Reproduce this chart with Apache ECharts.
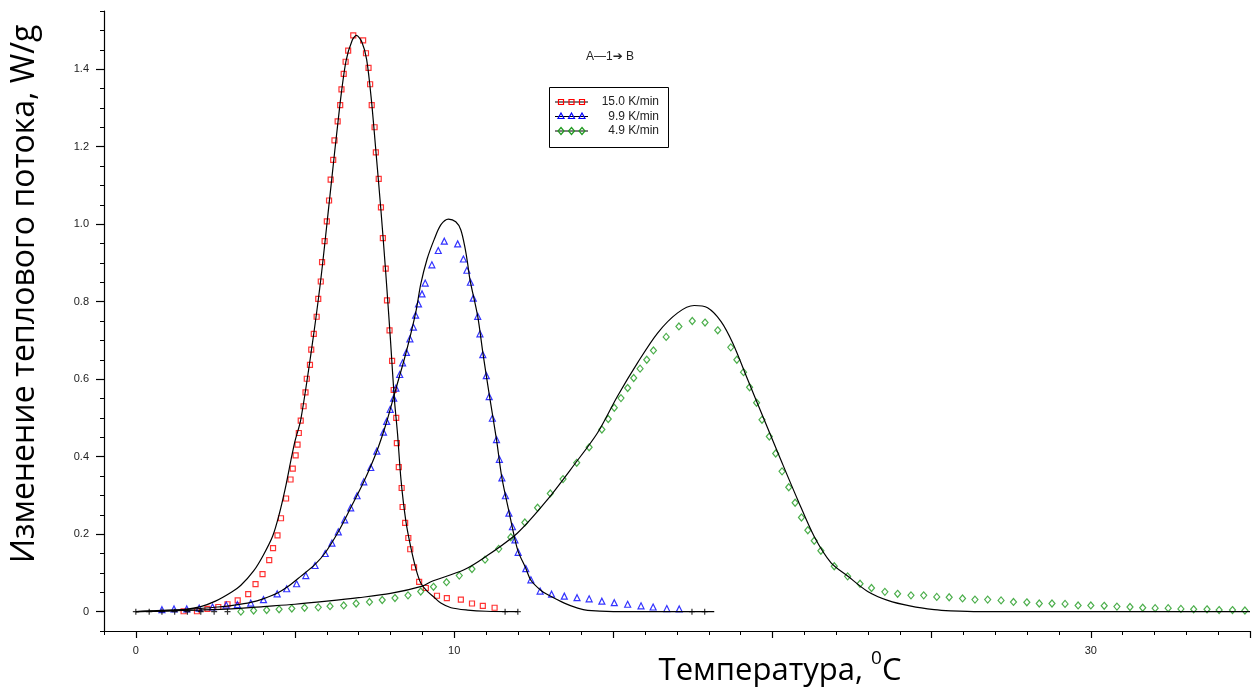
<!DOCTYPE html>
<html>
<head>
<meta charset="utf-8">
<script src="https://cdn.jsdelivr.net/npm/echarts@6/dist/echarts.min.js"></script>
<style>
  html, body { margin: 0; padding: 0; background: #fff; }
  #chart { width: 1256px; height: 691px; }
</style>
</head>
<body>
<div id="chart"></div>
<script>
// experimental points, [temperature, heat flow W/g]
var red15 = [[1.50,0.001],[1.92,0.001],[2.25,0.007],[2.59,0.012],[2.88,0.019],[3.20,0.029],[3.53,0.045],[3.76,0.071],[3.98,0.097],[4.19,0.133],[4.31,0.164],[4.45,0.197],[4.56,0.241],[4.72,0.292],[4.86,0.341],[4.93,0.369],[5.02,0.403],[5.08,0.431],[5.12,0.461],[5.18,0.493],[5.27,0.530],[5.33,0.566],[5.37,0.601],[5.47,0.637],[5.51,0.676],[5.59,0.717],[5.68,0.761],[5.73,0.807],[5.81,0.852],[5.85,0.902],[5.93,0.956],[6.00,1.007],[6.07,1.061],[6.12,1.115],[6.20,1.166],[6.24,1.216],[6.34,1.265],[6.42,1.307],[6.46,1.348],[6.53,1.388],[6.59,1.419],[6.67,1.448],[6.83,1.487],[7.14,1.474],[7.23,1.441],[7.31,1.403],[7.36,1.361],[7.41,1.307],[7.50,1.250],[7.54,1.185],[7.63,1.117],[7.70,1.043],[7.76,0.964],[7.85,0.885],[7.89,0.803],[7.97,0.726],[8.05,0.647],[8.10,0.572],[8.18,0.500],[8.20,0.435],[8.26,0.373],[8.35,0.319],[8.38,0.270],[8.46,0.229],[8.56,0.190],[8.62,0.161],[8.74,0.114],[8.90,0.077],[9.11,0.061],[9.46,0.041],[9.77,0.035],[10.21,0.031],[10.56,0.021],[10.90,0.015],[11.27,0.010]];
var blue99 = [[0.82,0.005],[1.20,0.007],[1.60,0.007],[1.99,0.009],[2.41,0.012],[2.84,0.017],[3.19,0.018],[3.61,0.022],[4.01,0.031],[4.44,0.046],[4.74,0.059],[5.05,0.072],[5.34,0.093],[5.63,0.119],[5.95,0.150],[6.16,0.177],[6.36,0.206],[6.56,0.237],[6.75,0.268],[6.95,0.299],[7.16,0.335],[7.38,0.372],[7.57,0.414],[7.78,0.463],[7.88,0.491],[7.99,0.522],[8.10,0.551],[8.17,0.577],[8.29,0.612],[8.38,0.642],[8.50,0.669],[8.61,0.704],[8.72,0.734],[8.79,0.765],[8.88,0.794],[8.99,0.820],[9.09,0.848],[9.30,0.895],[9.50,0.932],[9.69,0.956],[10.11,0.949],[10.29,0.910],[10.40,0.881],[10.51,0.850],[10.60,0.809],[10.74,0.762],[10.81,0.717],[10.90,0.663],[11.01,0.609],[11.10,0.555],[11.20,0.499],[11.33,0.444],[11.42,0.393],[11.50,0.345],[11.61,0.299],[11.72,0.254],[11.83,0.219],[11.91,0.185],[12.01,0.153],[12.25,0.111],[12.41,0.082],[12.70,0.053],[13.06,0.045],[13.46,0.040],[13.86,0.036],[14.24,0.033],[14.64,0.027],[15.03,0.023],[15.45,0.019],[15.87,0.015],[16.25,0.012],[16.68,0.008],[17.07,0.007]];
var green49 = [[3.30,0.000],[3.70,0.003],[4.11,0.004],[4.50,0.006],[4.90,0.008],[5.30,0.010],[5.73,0.011],[6.10,0.014],[6.53,0.016],[6.92,0.021],[7.34,0.025],[7.74,0.030],[8.14,0.035],[8.55,0.042],[8.95,0.052],[9.35,0.064],[9.76,0.076],[10.16,0.093],[10.56,0.110],[10.97,0.134],[11.40,0.162],[11.78,0.192],[12.22,0.230],[12.62,0.268],[13.02,0.305],[13.42,0.342],[13.85,0.384],[14.24,0.424],[14.64,0.470],[14.84,0.497],[15.03,0.526],[15.24,0.551],[15.45,0.577],[15.64,0.603],[15.84,0.627],[16.05,0.650],[16.26,0.674],[16.66,0.709],[17.06,0.736],[17.48,0.750],[17.88,0.746],[18.28,0.726],[18.69,0.682],[18.88,0.650],[19.09,0.618],[19.28,0.579],[19.50,0.539],[19.67,0.495],[19.90,0.452],[20.10,0.408],[20.30,0.362],[20.51,0.321],[20.71,0.281],[20.91,0.243],[21.11,0.210],[21.31,0.183],[21.52,0.157],[21.94,0.117],[22.36,0.091],[22.75,0.072],[23.11,0.061],[23.53,0.051],[23.93,0.046],[24.35,0.042],[24.75,0.042],[25.16,0.038],[25.55,0.037],[25.97,0.034],[26.36,0.031],[26.76,0.031],[27.18,0.029],[27.57,0.025],[27.99,0.024],[28.38,0.021],[28.78,0.021],[29.19,0.020],[29.60,0.016],[30.00,0.016],[30.42,0.015],[30.82,0.013],[31.23,0.012],[31.63,0.010],[32.02,0.009],[32.43,0.009],[32.83,0.007],[33.23,0.006],[33.65,0.006],[34.03,0.004],[34.45,0.004],[34.84,0.003]];

// model curves
var redFit = [[0,0],[1,0.002],[1.5,0.005],[2.04,0.013],[2.5,0.027],[3.0,0.05],[3.3,0.068],[3.7,0.105],[4.0,0.145],[4.3,0.195],[4.5,0.25],[4.7,0.32],[4.87,0.39],[5.0,0.44],[5.18,0.495],[5.5,0.665],[5.8,0.85],[6.1,1.075],[6.4,1.30],[6.6,1.42],[6.8,1.475],[6.93,1.487],[7.1,1.47],[7.25,1.425],[7.4,1.32],[7.55,1.18],[7.7,1.035],[7.85,0.875],[8.0,0.70],[8.12,0.55],[8.22,0.46],[8.33,0.34],[8.48,0.235],[8.64,0.165],[8.8,0.11],[8.95,0.074],[9.15,0.053],[9.37,0.037],[9.58,0.022],[9.9,0.010],[10.42,0.004],[11,0.001],[12,0]];
var blueFit = [[0,0],[0.5,0.002],[1,0.004],[1.5,0.005],[2.0,0.008],[2.57,0.012],[3.1,0.017],[3.61,0.024],[4.0,0.033],[4.45,0.048],[4.8,0.066],[5.18,0.091],[5.63,0.122],[5.95,0.152],[6.36,0.206],[6.75,0.268],[7.16,0.335],[7.57,0.414],[7.88,0.49],[8.17,0.575],[8.5,0.672],[8.8,0.775],[8.95,0.845],[9.15,0.91],[9.37,0.96],[9.58,0.998],[9.82,1.013],[10.05,1.006],[10.21,0.985],[10.35,0.935],[10.42,0.90],[10.5,0.855],[10.74,0.762],[10.91,0.663],[11.11,0.556],[11.33,0.444],[11.5,0.345],[11.73,0.255],[11.91,0.186],[12.02,0.153],[12.25,0.112],[12.41,0.081],[12.72,0.055],[12.93,0.044],[13.46,0.022],[13.88,0.009],[14.19,0.003],[15,0],[18.17,0]];
var greenFit = [[0,0],[1,0.002],[2,0.004],[3,0.007],[4,0.013],[5,0.019],[6,0.027],[7,0.036],[8,0.047],[9,0.066],[9.27,0.077],[10.31,0.108],[10.94,0.139],[11.99,0.203],[12.93,0.289],[13.77,0.379],[14.5,0.461],[15.13,0.556],[15.76,0.642],[16.39,0.719],[17.02,0.771],[17.54,0.790],[17.96,0.784],[18.38,0.749],[18.75,0.693],[19.22,0.599],[19.74,0.495],[20.26,0.392],[20.79,0.289],[21.31,0.194],[21.84,0.126],[22.36,0.092],[22.99,0.052],[23.62,0.029],[24.35,0.014],[25.08,0.005],[25.6,0.002],[26.5,0],[35,0]];
// small black crosses at the ends of the model curves
var fitMarks = [[0,0],[0.42,0],[0.82,0],[1.22,0],[1.62,0],[2.04,0],[2.46,0],[2.88,0],[11.6,0],[12.0,0],[17.47,0],[17.87,0]];

var legendNames = ['15.0 K/min', '9.9 K/min', '4.9 K/min'];
var xMajor = [0, 5, 10, 15, 20, 25, 30, 35];
var xLabels = [0, 10, 30];
var yMajor = [0, 0.2, 0.4, 0.6, 0.8, 1.0, 1.2, 1.4];

var chart = echarts.init(document.getElementById('chart'));

function fitLine(data) {
    return {
        type: 'line', data: data, showSymbol: false, smooth: 0.3,
        lineStyle: { color: '#000', width: 1.2 }, z: 5, silent: true
    };
}
function points(name, data, symbol, size, color) {
    return {
        name: name, type: 'scatter', data: data, symbol: symbol, symbolSize: size,
        itemStyle: { color: 'rgba(0,0,0,0)', borderColor: color, borderWidth: 1.2 }, z: 3
    };
}

// legend drawn by hand: line with three markers, text right aligned
function legendRow(y, shape, color, label) {
    var kids = [{ type: 'line', shape: { x1: 555, y1: y, x2: 588, y2: y }, style: { stroke: '#000', lineWidth: 1 } }];
    [561, 571.5, 582].forEach(function (cx) {
        var s;
        if (shape === 'rect') s = { type: 'rect', shape: { x: cx - 2.5, y: y - 2.5, width: 5, height: 5 } };
        else if (shape === 'tri') s = { type: 'polygon', shape: { points: [[cx, y - 3.5], [cx + 3, y + 2], [cx - 3, y + 2]] } };
        else s = { type: 'polygon', shape: { points: [[cx, y - 3.5], [cx + 3, y], [cx, y + 3.5], [cx - 3, y]] } };
        s.style = { fill: 'none', stroke: color, lineWidth: 1.2 };
        kids.push(s);
    });
    kids.push({ type: 'text', style: { text: label, x: 659, y: y, align: 'right', verticalAlign: 'middle',
        font: '12px "Liberation Sans", Arial, sans-serif', fill: '#222' } });
    return kids;
}

chart.setOption({
    animation: false,
    grid: { left: 104, right: 6, top: 11, bottom: 60, outerBoundsMode: 'none', containLabel: false },
    xAxis: [{
        type: 'value', min: -1, max: 35, interval: 1,
        axisLine: { onZero: false, lineStyle: { color: '#000', width: 1.2 } },
        axisTick: { length: 4, lineStyle: { color: '#000' } },
        axisLabel: { show: false }, splitLine: { show: false }
    }, {
        type: 'value', min: -1, max: 35, interval: 1, position: 'bottom',
        axisLine: { show: false, onZero: false },
        axisTick: { customValues: xMajor, length: 7, lineStyle: { color: '#000', width: 1.2 } },
        axisLabel: { customValues: xLabels, margin: 14, fontSize: 11, color: '#222', fontFamily: 'Liberation Sans' },
        splitLine: { show: false }
    }],
    yAxis: [{
        type: 'value', min: -0.05, max: 1.55, interval: 0.05,
        axisLine: { onZero: false, lineStyle: { color: '#000', width: 1.2 } },
        axisTick: { length: 4, lineStyle: { color: '#000' } },
        axisLabel: { show: false }, splitLine: { show: false }
    }, {
        type: 'value', min: -0.05, max: 1.55, interval: 0.05, position: 'left',
        axisLine: { show: false, onZero: false },
        axisTick: { customValues: yMajor, length: 8, lineStyle: { color: '#000', width: 1.2 } },
        axisLabel: { customValues: yMajor, margin: 15, fontSize: 11, color: '#222', fontFamily: 'Liberation Sans',
            formatter: function (v) { return v === 0 ? '0' : v.toFixed(1); } },
        splitLine: { show: false }
    }],
    series: [
        points(legendNames[0], red15, 'rect', 5, '#ff0000'),
        points(legendNames[1], blue99, 'triangle', 6, '#0000ff'),
        points(legendNames[2], green49, 'diamond', [6, 7], '#1e9a1e'),
        fitLine(redFit), fitLine(blueFit), fitLine(greenFit),
        {
            type: 'scatter', data: fitMarks, symbol: 'path://M0,5H10M5,0V10', symbolSize: 6,
            itemStyle: { color: 'none', borderColor: '#000', borderWidth: 1.2 }, z: 6, silent: true
        }
    ],
    graphic: [
        // axis titles
        { type: 'text', x: 25, y: 294, rotation: Math.PI / 2,
            style: { text: 'Изменение теплового потока, W/g', x: 0, y: 0, align: 'center', verticalAlign: 'middle',
                font: '32px "Open Sans", sans-serif', fill: '#000' } },
        { type: 'text', style: { text: '{a|Температура, }{s|0}{a|C}', x: 780, y: 668, align: 'center', verticalAlign: 'middle',
            rich: {
                a: { fontSize: 31, fontFamily: 'Open Sans', fill: '#000', lineHeight: 38, verticalAlign: 'bottom' },
                s: { fontSize: 19, fontFamily: 'Open Sans', fill: '#000', lineHeight: 30, verticalAlign: 'top' }
            } } },
        { type: 'text', style: { text: 'A—1➔ B', x: 610, y: 57, align: 'center', verticalAlign: 'middle',
            font: '12px "Liberation Sans", "DejaVu Sans", sans-serif', fill: '#222' } },
        { type: 'rect', shape: { x: 549.5, y: 87.5, width: 119, height: 60 },
            style: { fill: '#fff', stroke: '#000', lineWidth: 1 } }
    ].concat(legendRow(102, 'rect', '#ff0000', legendNames[0]))
     .concat(legendRow(116.5, 'tri', '#0000ff', legendNames[1]))
     .concat(legendRow(131, 'dia', '#1e9a1e', legendNames[2]))
});
</script>
</body>
</html>
